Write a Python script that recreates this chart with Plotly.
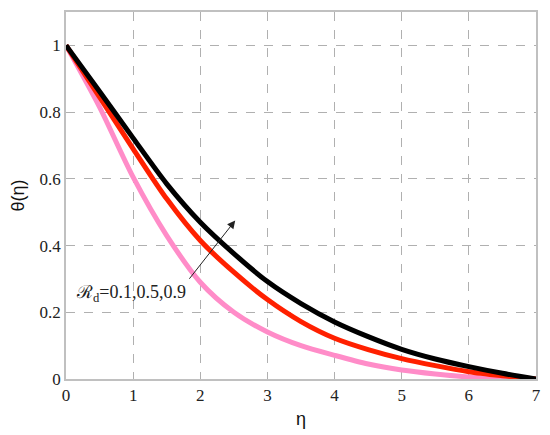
import plotly.graph_objects as go

eta = [0, 0.5, 1, 1.5, 2, 2.5, 3, 3.5, 4, 4.5, 5, 5.5, 6, 6.5, 7]
theta_rd01 = [1.0, 0.815, 0.605, 0.43, 0.29, 0.2, 0.141, 0.10, 0.071, 0.045, 0.027, 0.015, 0.006, 0.002, 0.0]
theta_rd05 = [1.0, 0.845, 0.69, 0.54, 0.415, 0.32, 0.238, 0.172, 0.122, 0.088, 0.061, 0.04, 0.022, 0.01, 0.0]
theta_rd09 = [1.0, 0.862, 0.722, 0.585, 0.47, 0.376, 0.292, 0.226, 0.171, 0.127, 0.089, 0.06, 0.037, 0.017, 0.0]

series = [
    ("Rd=0.1", theta_rd01, "#ff8cc8"),
    ("Rd=0.5", theta_rd05, "#ff2000"),
    ("Rd=0.9", theta_rd09, "#000000"),
]

x_ticks = [0, 1, 2, 3, 4, 5, 6, 7]
y_ticks = [0, 0.2, 0.4, 0.6, 0.8, 1]
y_tick_text = ["0", "0.2", "0.4", "0.6", "0.8", "1"]

fig = go.Figure()
for name, ys, col in series:
    fig.add_trace(go.Scatter(x=eta, y=ys, mode="lines", name=name,
                             line=dict(color=col, width=5, shape="spline", smoothing=0.8)))

tick_font = dict(family="Liberation Serif", size=17, color="#222")
axis_common = dict(showgrid=True, gridcolor="#b0b0b0", griddash="dash", gridwidth=1,
                   showline=True, linecolor="#c0c0c0", linewidth=1.5, mirror=True,
                   zeroline=False, ticks="", tickfont=tick_font, automargin=False)

fig.update_xaxes(range=[0, 7], tickvals=x_ticks,
                 title=dict(text="η", font=dict(family="Liberation Sans", size=18, color="#111"), standoff=8),
                 **axis_common)
fig.update_yaxes(range=[0, 1.1], tickvals=y_ticks, ticktext=y_tick_text,
                 title=dict(text="θ(η)", font=dict(family="Liberation Sans", size=18, color="#111"), standoff=14),
                 **axis_common)

fig.add_annotation(x=2.52, y=0.475, ax=1.82, ay=0.296, xref="x", yref="y", axref="x", ayref="y",
                   showarrow=True, arrowhead=2, arrowsize=1.6, arrowwidth=1, arrowcolor="#222", text="")
fig.add_annotation(x=0.12, y=0.255, xref="x", yref="y", xanchor="left", yanchor="middle", showarrow=False,
                   text="ℛ<sub>d</sub>=0.1,0.5,0.9", font=dict(family="Liberation Serif", size=18, color="#222"))

fig.update_layout(width=542, height=427, margin=dict(l=58, r=14, t=4, b=56),
                  plot_bgcolor="white", paper_bgcolor="white", showlegend=False)

fig.write_html("out.html")
